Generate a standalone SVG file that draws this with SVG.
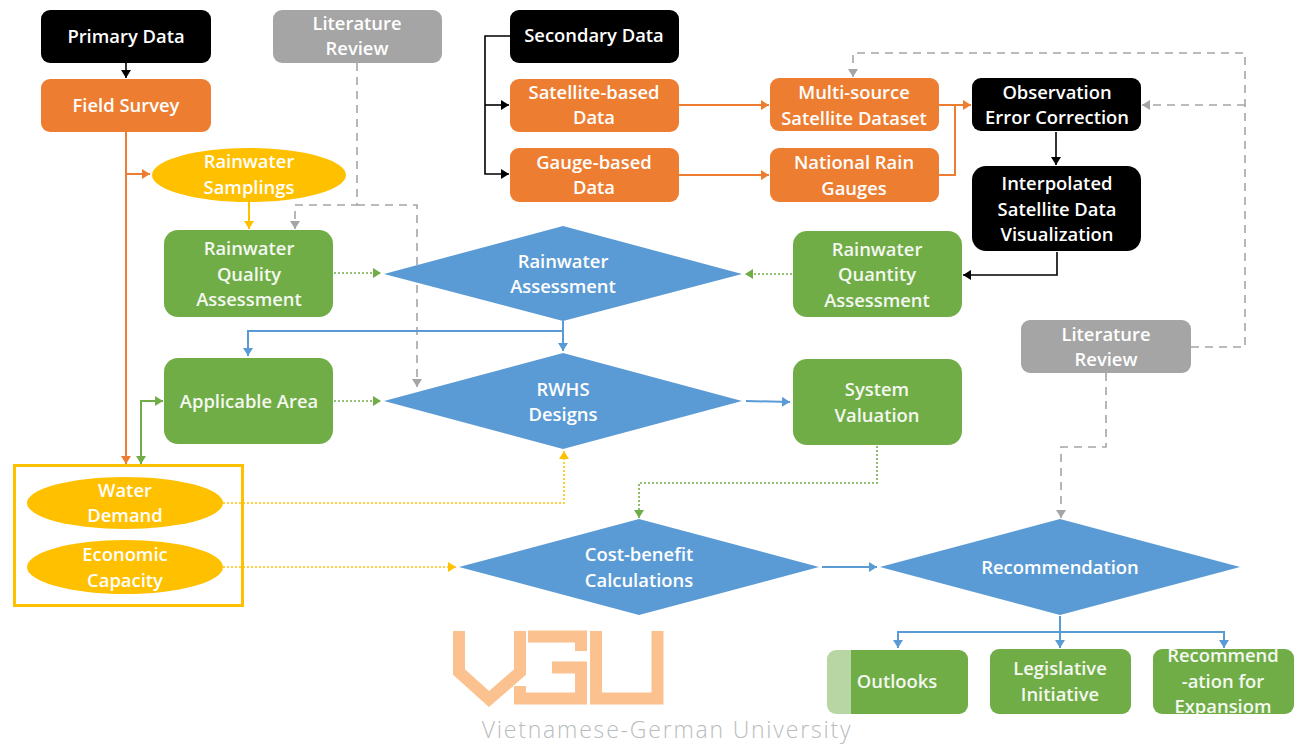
<svg xmlns="http://www.w3.org/2000/svg" width="1295" height="745" viewBox="0 0 1295 745">
<style>
text{font-family:"Open Sans","Noto Sans","Liberation Sans",sans-serif;font-size:18.400px;font-weight:600;fill:#fff;text-anchor:middle}
.k{fill:#000}.g{fill:#a5a5a5}.o{fill:#ed7d31}.n{fill:#70ad47}.b{fill:#5b9bd5}.y{fill:#ffc000}
.t{fill:#f4f8f0}
.c{fill:none;stroke-width:1.6}
.ck{stroke:#000}.cg{stroke:#a5a5a5;stroke-dasharray:8 6}.co{stroke:#ed7d31;stroke-width:2}.cn{stroke:#70ad47;stroke-width:2}.cd{stroke:#70ad47;stroke-dasharray:2 2}.cb{stroke:#5b9bd5;stroke-width:2}.cy{stroke:#ffc000;stroke-dasharray:2 2}.cyy{stroke:#ffc000;stroke-width:2}
.logo{fill:none;stroke:#fbc290;stroke-width:12}
</style>
<defs>
<marker id="ak" markerUnits="userSpaceOnUse" markerWidth="9" markerHeight="10" refX="8" refY="5" orient="auto-start-reverse"><path d="M0 0L8 5L0 10z" fill="#000"/></marker>
<marker id="ag" markerUnits="userSpaceOnUse" markerWidth="9" markerHeight="10" refX="8" refY="5" orient="auto-start-reverse"><path d="M0 0L8 5L0 10z" fill="#a5a5a5"/></marker>
<marker id="ao" markerUnits="userSpaceOnUse" markerWidth="9" markerHeight="10" refX="8" refY="5" orient="auto-start-reverse"><path d="M0 0L8 5L0 10z" fill="#ed7d31"/></marker>
<marker id="an" markerUnits="userSpaceOnUse" markerWidth="9" markerHeight="10" refX="8" refY="5" orient="auto-start-reverse"><path d="M0 0L8 5L0 10z" fill="#70ad47"/></marker>
<marker id="ab" markerUnits="userSpaceOnUse" markerWidth="9" markerHeight="10" refX="8" refY="5" orient="auto-start-reverse"><path d="M0 0L8 5L0 10z" fill="#5b9bd5"/></marker>
<marker id="ay" markerUnits="userSpaceOnUse" markerWidth="9" markerHeight="10" refX="8" refY="5" orient="auto-start-reverse"><path d="M0 0L8 5L0 10z" fill="#ffc000"/></marker>
</defs>

<g id="connectors">
<path class="c ck" d="M126 63V78" marker-end="url(#ak)"/>
<path class="c ck" d="M510 36H485V174H509" marker-end="url(#ak)"/>
<path class="c ck" d="M485 105H509" marker-end="url(#ak)"/>
<path class="c co" d="M679 105H769" marker-end="url(#ao)"/>
<path class="c co" d="M679 175H769" marker-end="url(#ao)"/>
<path class="c co" d="M939 105H971" marker-end="url(#ao)"/>
<path class="c co" d="M939 175H955V105"/>
<path class="c ck" d="M1056 132V165" marker-end="url(#ak)"/>
<path class="c ck" d="M1057 252V275H963" marker-end="url(#ak)"/>
<path class="c cg" d="M1191 347H1245V53H853V77" marker-end="url(#ag)"/>
<path class="c cg" d="M1245 105H1142" marker-end="url(#ag)"/>
<path class="c cg" d="M1106 373V447H1061V518" marker-end="url(#ag)"/>
<path class="c cg" d="M357 63V205H295V229" marker-end="url(#ag)"/>
<path class="c cg" d="M357 205H417V387" marker-end="url(#ag)"/>
<path class="c co" d="M126 132V464" marker-end="url(#ao)"/>
<path class="c co" d="M126 174H150" marker-end="url(#ao)"/>
<path class="c cyy" d="M249 202V229" marker-end="url(#ay)"/>
<path class="c cd" d="M334 273H381" marker-end="url(#an)"/>
<path class="c cd" d="M792 274H745" marker-end="url(#an)"/>
<path class="c cb" d="M563 321V351" marker-end="url(#ab)"/>
<path class="c cb" d="M563 331H248V356" marker-end="url(#ab)"/>
<path class="c cn" d="M141 464V401H163" marker-start="url(#an)" marker-end="url(#an)"/>
<path class="c cd" d="M334 401H381" marker-end="url(#an)"/>
<path class="c cb" d="M746 401L790 402" marker-end="url(#ab)"/>
<path class="c cd" d="M877 446V483H639V518" marker-end="url(#an)"/>
<path class="c cy" d="M223 503H564V451" marker-end="url(#ay)"/>
<path class="c cy" d="M223 567H456" marker-end="url(#ay)"/>
<path class="c cb" d="M822 567H877" marker-end="url(#ab)"/>
<path class="c cb" d="M1060 616V648" marker-end="url(#ab)"/>
<path class="c cb" d="M898 648V632H1224V648" marker-end="url(#ab)"/>
<path class="c cb" d="M898 632V648" marker-end="url(#ab)"/>
</g>

<g id="primary-data"><rect class="k" x="41" y="10" width="170" height="53" rx="9"/><text x="126" y="43">Primary Data</text></g>
<g id="literature-review-1"><rect class="g" x="273" y="10" width="169" height="53" rx="9"/><text x="357" y="30">Literature</text><text x="357" y="55">Review</text></g>
<g id="secondary-data"><rect class="k" x="510" y="10" width="169" height="53" rx="9"/><text x="594" y="42">Secondary Data</text></g>
<g id="field-survey"><rect class="o" x="41" y="79" width="170" height="53" rx="9"/><text x="126" y="112">Field Survey</text></g>
<g id="satellite-based-data"><rect class="o" x="510" y="79" width="169" height="53" rx="9"/><text x="594" y="99">Satellite-based</text><text x="594" y="124">Data</text></g>
<g id="gauge-based-data"><rect class="o" x="510" y="148" width="169" height="54" rx="9"/><text x="594" y="169">Gauge-based</text><text x="594" y="194">Data</text></g>
<g id="multi-source"><rect class="o" x="770" y="78" width="169" height="53" rx="9"/><text x="854" y="99">Multi-source</text><text x="854" y="125">Satellite Dataset</text></g>
<g id="national-rain-gauges"><rect class="o" x="770" y="148" width="169" height="54" rx="9"/><text x="854" y="169">National Rain</text><text x="854" y="195">Gauges</text></g>
<g id="observation-error"><rect class="k" x="972" y="78" width="169" height="53" rx="9"/><text x="1057" y="99">Observation</text><text x="1057" y="124">Error Correction</text></g>
<g id="interpolated"><rect class="k" x="972" y="166" width="169" height="85" rx="14"/><text x="1057" y="190">Interpolated</text><text x="1057" y="216">Satellite Data</text><text x="1057" y="241">Visualization</text></g>
<g id="rainwater-samplings"><ellipse class="y" cx="249" cy="175" rx="97" ry="27"/><text x="249" y="168">Rainwater</text><text x="249" y="194">Samplings</text></g>
<g id="quality"><rect class="n" x="164" y="230" width="169" height="87" rx="14"/><text class="t" x="249" y="255">Rainwater</text><text class="t" x="249" y="281">Quality</text><text class="t" x="249" y="306">Assessment</text></g>
<g id="quantity"><rect class="n" x="793" y="231" width="169" height="86" rx="14"/><text class="t" x="877" y="256">Rainwater</text><text class="t" x="877" y="281">Quantity</text><text class="t" x="877" y="307">Assessment</text></g>
<g id="rainwater-assessment"><polygon class="b" points="384,274 563,226 742,274 563,321"/><text x="563" y="268">Rainwater</text><text x="563" y="293">Assessment</text></g>
<g id="applicable-area"><rect class="n" x="164" y="358" width="169" height="86" rx="14"/><text class="t" x="249" y="408">Applicable Area</text></g>
<g id="rwhs-designs"><polygon class="b" points="384,401 563,353 742,401 563,449"/><text x="563" y="396">RWHS</text><text x="563" y="421">Designs</text></g>
<g id="system-valuation"><rect class="n" x="793" y="359" width="169" height="86" rx="14"/><text class="t" x="877" y="396">System</text><text class="t" x="877" y="422">Valuation</text></g>
<g id="literature-review-2"><rect class="g" x="1021" y="320" width="170" height="53" rx="9"/><text x="1106" y="341">Literature</text><text x="1106" y="366">Review</text></g>
<g id="demand-group"><rect x="14.500" y="465.500" width="228" height="140" fill="none" stroke="#ffc000" stroke-width="3"/></g>
<g id="water-demand"><ellipse class="y" cx="125" cy="503" rx="98" ry="26"/><text x="125" y="497">Water</text><text x="125" y="522">Demand</text></g>
<g id="economic-capacity"><ellipse class="y" cx="125" cy="567" rx="98" ry="27"/><text x="125" y="561">Economic</text><text x="125" y="587">Capacity</text></g>
<g id="cost-benefit"><polygon class="b" points="459,567 639,519 819,567 639,615"/><text x="639" y="561">Cost-benefit</text><text x="639" y="587">Calculations</text></g>
<g id="recommendation"><polygon class="b" points="880,567 1060,519 1240,567 1060,615"/><text x="1060" y="574">Recommendation</text></g>
<g id="outlooks"><rect class="n" x="827" y="650" width="141" height="64" rx="9"/><text class="t" x="897" y="688">Outlooks</text></g>
<g id="legislative"><rect class="n" x="990" y="649" width="141" height="65" rx="9"/><text class="t" x="1060" y="675">Legislative</text><text class="t" x="1060" y="701">Initiative</text></g>
<g id="recommendation-expansion"><rect class="n" x="1153" y="649" width="141" height="65" rx="9"/><text class="t" x="1223" y="662">Recommend</text><text class="t" x="1223" y="688">-ation for</text><clipPath id="clip"><rect x="1153" y="649" width="141" height="65"/></clipPath><text class="t" x="1223" y="713" clip-path="url(#clip)">Expansiom</text></g>

<g id="watermark">
<polyline class="logo" points="459,631 459,672 489,699 520,672 520,631"/>
<polyline class="logo" points="528,636.500 581,636.500 581,651"/>
<polyline class="logo" points="552,667.500 581,667.500 581,698.500 520,698.500 520,686"/>
<polyline class="logo" points="596,631 596,698.500 657.500,698.500 657.500,631"/>
<rect x="827" y="650" width="24" height="64" fill="#fff" fill-opacity=".5"/>
<text x="667" y="738" style="font-family:'Open Sans','Noto Sans',sans-serif;font-size:23px;font-weight:300;letter-spacing:1.800px;fill:#b9bcbe">Vietnamese-German University</text>
</g>
</svg>
